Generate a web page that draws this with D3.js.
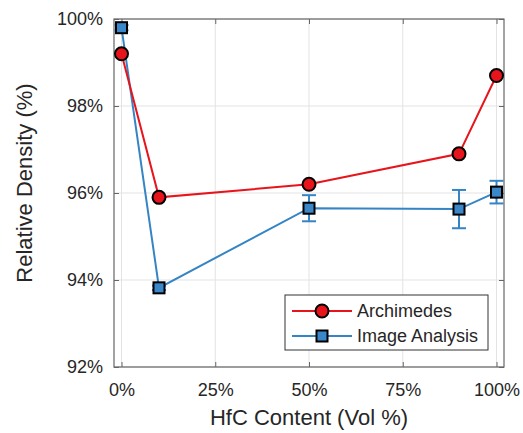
<!DOCTYPE html>
<html>
<head>
<meta charset="utf-8">
<title>Relative Density vs HfC Content</title>
<script src="https://cdn.jsdelivr.net/npm/d3@7/dist/d3.min.js"></script>
<style>
  body { margin: 0; background: #fff; }
  text { font-family: "Liberation Sans", Arial, sans-serif; fill: #262626; }
</style>
</head>
<body>
<script>
// data
var hfc = [0, 10, 50, 90, 100];
var archimedes = [99.2, 95.9, 96.2, 96.9, 98.7];
var imageAnalysis = [99.8, 93.82, 95.65, 95.63, 96.02];
var imageErr = [0.06, 0.05, 0.3, 0.44, 0.26];
var xTicks = [0, 25, 50, 75, 100];
var yTicks = [92, 94, 96, 98, 100];

var width = 523, height = 433;
var margin = { top: 19, right: 19, bottom: 66, left: 114 };

var svg = d3.select("body").append("svg").attr("width", width).attr("height", height);

var x = d3.scaleLinear().domain([-2, 102]).range([margin.left, width - margin.right]);
var y = d3.scaleLinear().domain([92, 100]).range([height - margin.bottom, margin.top]);

var red = "#e8141c", blue = "#3584c4", blueFill = "#3a88c9";

// grid
svg.append("g").selectAll("line").data(xTicks).enter().append("line")
    .attr("x1", function (d) { return x(d); }).attr("x2", function (d) { return x(d); })
    .attr("y1", y(92)).attr("y2", y(100))
    .attr("stroke", "#e3e3e3").attr("stroke-width", 1);
svg.append("g").selectAll("line").data(yTicks).enter().append("line")
    .attr("x1", x(-2)).attr("x2", x(102))
    .attr("y1", function (d) { return y(d); }).attr("y2", function (d) { return y(d); })
    .attr("stroke", "#e3e3e3").attr("stroke-width", 1);

// axes (ticks inward on all four sides)
var pct = function (d) { return d + "%"; };
function styleAxis(g) {
    g.select(".domain").remove();
    g.selectAll(".tick line").attr("stroke", "#666");
    g.selectAll(".tick text").attr("font-size", "18px").attr("fill", "#262626")
        .attr("font-family", "Liberation Sans, Arial, sans-serif");
}
svg.append("g").attr("transform", "translate(0," + y(92) + ")")
    .call(d3.axisBottom(x).tickValues(xTicks).tickFormat(pct).tickSizeInner(-5).tickPadding(16))
    .call(styleAxis);
svg.append("g").attr("transform", "translate(0," + y(100) + ")")
    .call(d3.axisTop(x).tickValues(xTicks).tickFormat("").tickSizeInner(-5))
    .call(styleAxis);
svg.append("g").attr("transform", "translate(" + x(-2) + ",0)")
    .call(d3.axisLeft(y).tickValues(yTicks).tickFormat(pct).tickSizeInner(-5).tickPadding(11))
    .call(styleAxis);
svg.append("g").attr("transform", "translate(" + x(102) + ",0)")
    .call(d3.axisRight(y).tickValues(yTicks).tickFormat("").tickSizeInner(-5))
    .call(styleAxis);

svg.append("rect")
    .attr("x", x(-2)).attr("y", y(100))
    .attr("width", x(102) - x(-2)).attr("height", y(92) - y(100))
    .attr("fill", "none").attr("stroke", "#666").attr("stroke-width", 1.2);

// axis titles
svg.append("text")
    .attr("x", 309).attr("y", 425)
    .attr("text-anchor", "middle").attr("font-size", "22px")
    .text("HfC Content (Vol %)");
svg.append("text")
    .attr("transform", "translate(32,183) rotate(-90)")
    .attr("text-anchor", "middle").attr("font-size", "22px")
    .text("Relative Density (%)");

var line = d3.line().x(function (d) { return x(d[0]); }).y(function (d) { return y(d[1]); });
var archPts = hfc.map(function (d, i) { return [d, archimedes[i]]; });
var imgPts = hfc.map(function (d, i) { return [d, imageAnalysis[i], imageErr[i]]; });

// image analysis: line, error bars, squares
svg.append("path").datum(imgPts).attr("d", line)
    .attr("fill", "none").attr("stroke", blue).attr("stroke-width", 2);
var eb = svg.append("g").selectAll("g").data(imgPts).enter().append("g")
    .attr("stroke", blue).attr("stroke-width", 2);
eb.append("line")
    .attr("x1", function (d) { return x(d[0]); }).attr("x2", function (d) { return x(d[0]); })
    .attr("y1", function (d) { return y(d[1] - d[2]); }).attr("y2", function (d) { return y(d[1] + d[2]); });
eb.append("line")
    .attr("x1", function (d) { return x(d[0]) - 7; }).attr("x2", function (d) { return x(d[0]) + 7; })
    .attr("y1", function (d) { return y(d[1] - d[2]); }).attr("y2", function (d) { return y(d[1] - d[2]); });
eb.append("line")
    .attr("x1", function (d) { return x(d[0]) - 7; }).attr("x2", function (d) { return x(d[0]) + 7; })
    .attr("y1", function (d) { return y(d[1] + d[2]); }).attr("y2", function (d) { return y(d[1] + d[2]); });

// archimedes line
svg.append("path").datum(archPts).attr("d", line)
    .attr("fill", "none").attr("stroke", red).attr("stroke-width", 2);

svg.append("g").selectAll("rect").data(imgPts).enter().append("rect")
    .attr("x", function (d) { return x(d[0]) - 5.5; })
    .attr("y", function (d) { return y(d[1]) - 5.5; })
    .attr("width", 11).attr("height", 11)
    .attr("fill", blueFill).attr("stroke", "#000").attr("stroke-width", 2);

svg.append("g").selectAll("circle").data(archPts).enter().append("circle")
    .attr("cx", function (d) { return x(d[0]); })
    .attr("cy", function (d) { return y(d[1]); })
    .attr("r", 6.5)
    .attr("fill", red).attr("stroke", "#000").attr("stroke-width", 2);

// legend
var lg = svg.append("g");
lg.append("rect").attr("x", 285).attr("y", 295).attr("width", 203).attr("height", 55)
    .attr("fill", "#fff").attr("stroke", "#333").attr("stroke-width", 1);
var legendItems = [
    { name: "Archimedes", color: red, shape: "circle" },
    { name: "Image Analysis", color: blue, shape: "square" }
];
legendItems.forEach(function (it, i) {
    var ly = 311 + i * 25;
    lg.append("line").attr("x1", 292).attr("x2", 352).attr("y1", ly).attr("y2", ly)
        .attr("stroke", it.color).attr("stroke-width", 2);
    if (it.shape === "circle") {
        lg.append("circle").attr("cx", 322).attr("cy", ly).attr("r", 6.5)
            .attr("fill", red).attr("stroke", "#000").attr("stroke-width", 2);
    } else {
        lg.append("rect").attr("x", 316.5).attr("y", ly - 5.5).attr("width", 11).attr("height", 11)
            .attr("fill", blueFill).attr("stroke", "#000").attr("stroke-width", 2);
    }
    lg.append("text").attr("x", 357).attr("y", ly).attr("dy", "0.35em")
        .attr("font-size", "18px").text(it.name);
});
</script>
</body>
</html>
